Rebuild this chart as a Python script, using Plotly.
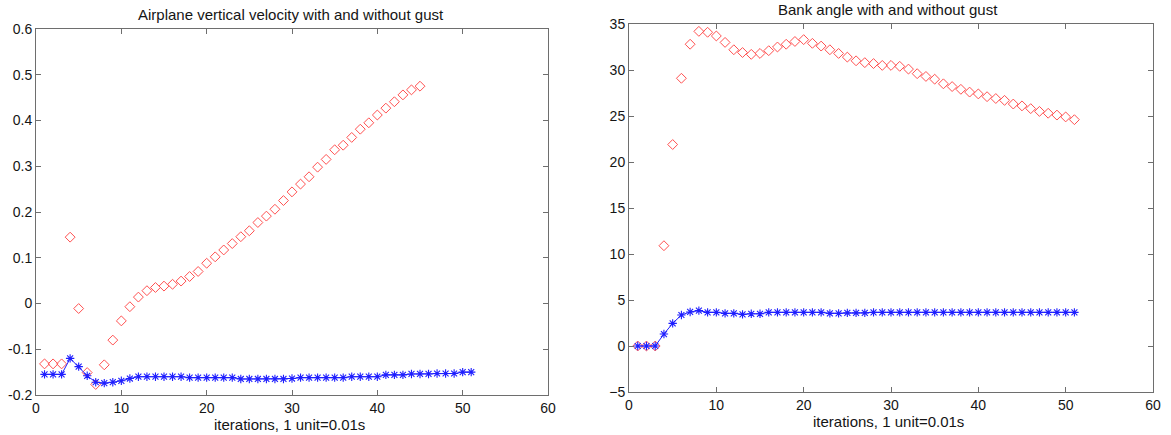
import plotly.graph_objects as go

# ---- data -------------------------------------------------------------
iters_vv_gust = list(range(1, 46))
vv_gust = [
    -0.132, -0.132, -0.132, 0.145, -0.011, -0.151, -0.177, -0.134, -0.080, -0.038,
    -0.007, 0.014, 0.028, 0.035, 0.038, 0.042, 0.049, 0.059, 0.070, 0.088,
    0.102, 0.117, 0.131, 0.146, 0.159, 0.177, 0.191, 0.206, 0.225, 0.244,
    0.261, 0.277, 0.298, 0.315, 0.336, 0.346, 0.363, 0.381, 0.395, 0.412,
    0.427, 0.441, 0.456, 0.467, 0.475,
]

iters_vv_calm = list(range(1, 52))
vv_calm = [
    -0.155, -0.155, -0.155, -0.120, -0.138, -0.158, -0.172, -0.174, -0.172, -0.169,
    -0.164, -0.160, -0.160, -0.160, -0.160, -0.160, -0.160, -0.162, -0.162, -0.162,
    -0.162, -0.162, -0.162, -0.165, -0.165, -0.165, -0.165, -0.165, -0.165, -0.164,
    -0.162, -0.162, -0.162, -0.162, -0.162, -0.162, -0.160, -0.160, -0.160, -0.160,
    -0.156, -0.156, -0.156, -0.154, -0.154, -0.154, -0.153, -0.153, -0.153, -0.150,
    -0.150,
]

iters_bank = list(range(1, 52))
bank_gust = [
    0.0, 0.0, 0.0, 10.9, 21.9, 29.1, 32.8, 34.2, 34.1, 33.7,
    33.0, 32.2, 31.9, 31.7, 31.8, 32.1, 32.5, 32.8, 33.1, 33.3,
    32.9, 32.6, 32.2, 31.8, 31.4, 31.0, 30.8, 30.7, 30.5, 30.5,
    30.4, 30.1, 29.6, 29.3, 29.0, 28.5, 28.2, 27.9, 27.6, 27.4,
    27.1, 26.9, 26.7, 26.3, 26.1, 25.8, 25.5, 25.3, 25.1, 24.9,
    24.6,
]
bank_calm = [
    0.0, 0.0, 0.0, 1.3, 2.46, 3.37, 3.7, 3.84, 3.66, 3.66,
    3.55, 3.55, 3.44, 3.5, 3.5, 3.66, 3.66, 3.66, 3.66, 3.66,
    3.66, 3.66, 3.55, 3.55, 3.6, 3.6, 3.6, 3.66, 3.66, 3.66,
    3.66, 3.66, 3.66, 3.66, 3.66, 3.66, 3.66, 3.66, 3.66, 3.66,
    3.66, 3.66, 3.66, 3.66, 3.66, 3.66, 3.66, 3.66, 3.66, 3.66,
    3.66,
]

x_ticks = [0, 10, 20, 30, 40, 50, 60]
vv_ticks = [-0.2, -0.1, 0, 0.1, 0.2, 0.3, 0.4, 0.5, 0.6]
vv_tick_text = ["-0.2", "-0.1", "0", "0.1", "0.2", "0.3", "0.4", "0.5", "0.6"]
bank_ticks = [-5, 0, 5, 10, 15, 20, 25, 30, 35]

titles = ["Airplane vertical velocity with and without gust",
          "Bank angle with and without gust"]
x_label = "iterations, 1 unit=0.01s"

# ---- styling ------------------------------------------------------------
W, H = 1171, 435
FONT = "Liberation Sans, Arial, Helvetica, sans-serif"
TEXT = "#151515"
RED = "rgb(255,80,80)"
BLUE = "rgb(30,30,255)"
AXIS_GRAY = "rgb(110,110,110)"

diamond = dict(symbol="diamond-open", size=7.6, color=RED, line=dict(width=1, color=RED))
aster = dict(symbol="asterisk-open", size=7, color=BLUE, line=dict(width=1.1, color=BLUE))

fig = go.Figure()

fig.add_trace(go.Scatter(x=iters_vv_gust, y=vv_gust, mode="markers", marker=diamond,
                         xaxis="x", yaxis="y", showlegend=False))
fig.add_trace(go.Scatter(x=iters_vv_calm, y=vv_calm, mode="lines+markers",
                         line=dict(color=BLUE, width=1), marker=aster,
                         xaxis="x", yaxis="y", showlegend=False))
fig.add_trace(go.Scatter(x=iters_bank, y=bank_gust, mode="markers", marker=diamond,
                         xaxis="x2", yaxis="y2", showlegend=False))
fig.add_trace(go.Scatter(x=iters_bank, y=bank_calm, mode="lines+markers",
                         line=dict(color=BLUE, width=1), marker=aster,
                         xaxis="x2", yaxis="y2", showlegend=False))


def axis_style(**kw):
    base = dict(showgrid=False, zeroline=False, showline=True, mirror="ticks",
                linecolor=AXIS_GRAY, linewidth=1, ticks="inside", ticklen=5,
                tickcolor=AXIS_GRAY, tickwidth=1, automargin=False,
                tickfont=dict(family=FONT, size=14, color=TEXT))
    base.update(kw)
    return base


left_dom = [36 / W, 548 / W]
right_dom = [629 / W, 1153 / W]

fig.update_layout(
    width=W, height=H,
    margin=dict(l=0, r=0, t=0, b=0),
    paper_bgcolor="white", plot_bgcolor="white",
    font=dict(family=FONT, size=14, color=TEXT),
    xaxis=axis_style(domain=left_dom, range=[0, 60], tickvals=x_ticks, anchor="y"),
    yaxis=axis_style(domain=[1 - 395 / H, 1 - 29 / H], range=[-0.2, 0.6],
                     tickvals=vv_ticks, ticktext=vv_tick_text, anchor="x"),
    xaxis2=axis_style(domain=right_dom, range=[0, 60], tickvals=x_ticks, anchor="y2"),
    yaxis2=axis_style(domain=[1 - 392 / H, 1 - 24 / H], range=[-5, 35],
                      tickvals=bank_ticks, anchor="x2"),
)

# titles and x-axis labels
annotations = [
    dict(text=titles[0], x=290.5 / W, y=1 - 15 / H),
    dict(text=titles[1], x=888.5 / W, y=1 - 10 / H),
    dict(text=x_label, x=289.5 / W, y=1 - 424 / H),
    dict(text=x_label, x=888 / W, y=1 - 421 / H),
]
for a in annotations:
    fig.add_annotation(xref="paper", yref="paper", xanchor="center", yanchor="middle",
                       showarrow=False, font=dict(family=FONT, size=15, color=TEXT), **a)

fig.write_html("out.html")
